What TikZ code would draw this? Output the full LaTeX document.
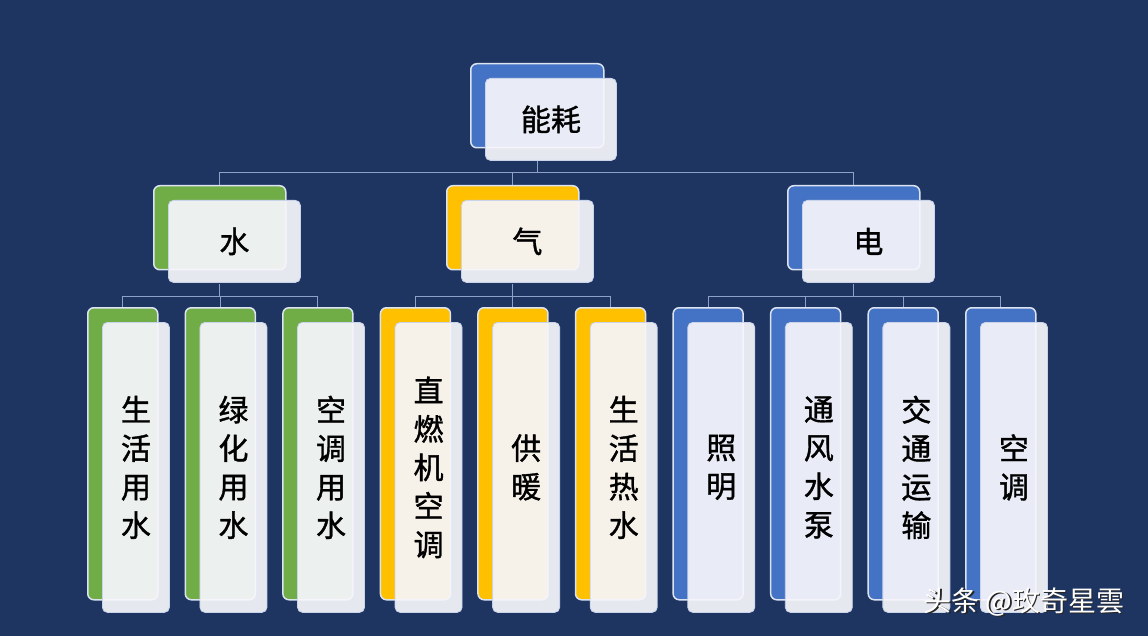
\documentclass[tikz,border=0pt]{standalone}
\usepackage{fontspec}
\newfontfamily\cjk{Noto Sans CJK SC}[FakeBold=1.2]
\newfontfamily\cjkwm{Noto Sans CJK SC}
\usetikzlibrary{calc}
\definecolor{bgnavy}{HTML}{1E3562}
\definecolor{cgreen}{HTML}{70AD47}
\definecolor{cgold}{HTML}{FFC000}
\definecolor{cblue}{HTML}{4472C4}
\definecolor{edgelight}{HTML}{DCE4F2}
\definecolor{frontfill}{HTML}{F6F6FB}
\definecolor{frontedge}{HTML}{C9D3EA}
\definecolor{linkc}{HTML}{8EA2C8}
\tikzset{
  backbox/.style={draw=edgelight, line width=1.5pt, rounded corners=6pt, inner sep=0pt, anchor=north west},
  frontbox/.style={draw=frontedge, line width=0.8pt, fill=frontfill, fill opacity=0.93, text opacity=1,
     rounded corners=5pt, inner sep=0pt, anchor=north west, align=center, text=black,
     font=\cjk\fontsize{30}{38.5}\selectfont},
  link/.style={draw=linkc, line width=1pt},
  wmark/.style={font=\cjkwm\fontsize{28}{30}\selectfont},
}
\begin{document}
\begin{tikzpicture}[x=1pt,y=-1pt]
\fill[bgnavy] (0,0) rectangle (1148,636);
\useasboundingbox (0,0) rectangle (1148,636);

% back boxes, level 0 and 1
\node[backbox, fill=cblue, minimum width=133pt, minimum height=84pt] (rb) at (470,63) {};
\node[backbox, fill=cgreen, minimum width=132pt, minimum height=84pt] (wb) at (153,185) {};
\node[backbox, fill=cgold, minimum width=132pt, minimum height=84pt] (gb) at (446,185) {};
\node[backbox, fill=cblue, minimum width=132pt, minimum height=84pt] (eb) at (787,185) {};

% back boxes, level 2
\foreach \i/\c in {0/cgreen,1/cgreen,2/cgreen,3/cgold,4/cgold,5/cgold,6/cblue,7/cblue,8/cblue,9/cblue}{
  \node[backbox, fill=\c, minimum width=70pt, minimum height=292pt] (b\i) at ({87+97.56*\i},307) {};
}

% connectors
\coordinate (bus0) at (536,173);
\coordinate (busw) at (0,296);
\draw[link] ($(rb.south)+(0,13)$) -- (rb.south |- bus0);
\draw[link] (wb.north) -- (wb.north |- bus0) -- (eb.north |- bus0) -- (eb.north);
\draw[link] (gb.north) -- (gb.north |- bus0);
\draw[link] ($(wb.south)+(0,14)$) -- (wb.south |- busw);
\draw[link] ($(gb.south)+(0,14)$) -- (gb.south |- busw);
\draw[link] ($(eb.south)+(0,14)$) -- (eb.south |- busw);
\draw[link] (b0.north) -- (b0.north |- busw) -- (b2.north |- busw) -- (b2.north);
\draw[link] (b1.north) -- (b1.north |- busw);
\draw[link] (b3.north) -- (b3.north |- busw) -- (b5.north |- busw) -- (b5.north);
\draw[link] (b4.north) -- (b4.north |- busw);
\draw[link] (b6.north) -- (b6.north |- busw) -- (b9.north |- busw) -- (b9.north);
\draw[link] (b7.north) -- (b7.north |- busw);
\draw[link] (b8.north) -- (b8.north |- busw);

% front boxes
\node[frontbox, minimum width=131pt, minimum height=82pt] (rf) at (485,78) {能耗};
\node[frontbox, minimum width=132pt, minimum height=82pt] (wf) at (168,200) {水};
\node[frontbox, minimum width=132pt, minimum height=82pt] (gf) at (461,200) {气};
\node[frontbox, minimum width=132pt, minimum height=82pt] (ef) at (802,200) {电};

\foreach \i/\t in {0/{生\\活\\用\\水},1/{绿\\化\\用\\水},2/{空\\调\\用\\水},3/{直\\燃\\机\\空\\调},4/{供\\暖},5/{生\\活\\热\\水},6/{照\\明},7/{通\\风\\水\\泵},8/{交\\通\\运\\输},9/{空\\调}}{
  \node[frontbox, minimum width=67pt, minimum height=290pt] (f\i) at ({102+97.56*\i},322) {\t};
}

% watermark
\node[wmark, text=black!85] (wm0) at (1025.5,603.5) {头条 @玫奇星雲};
\node[wmark, text=white] (wm) at (1024,602) {头条 @玫奇星雲};
\end{tikzpicture}
\end{document}
